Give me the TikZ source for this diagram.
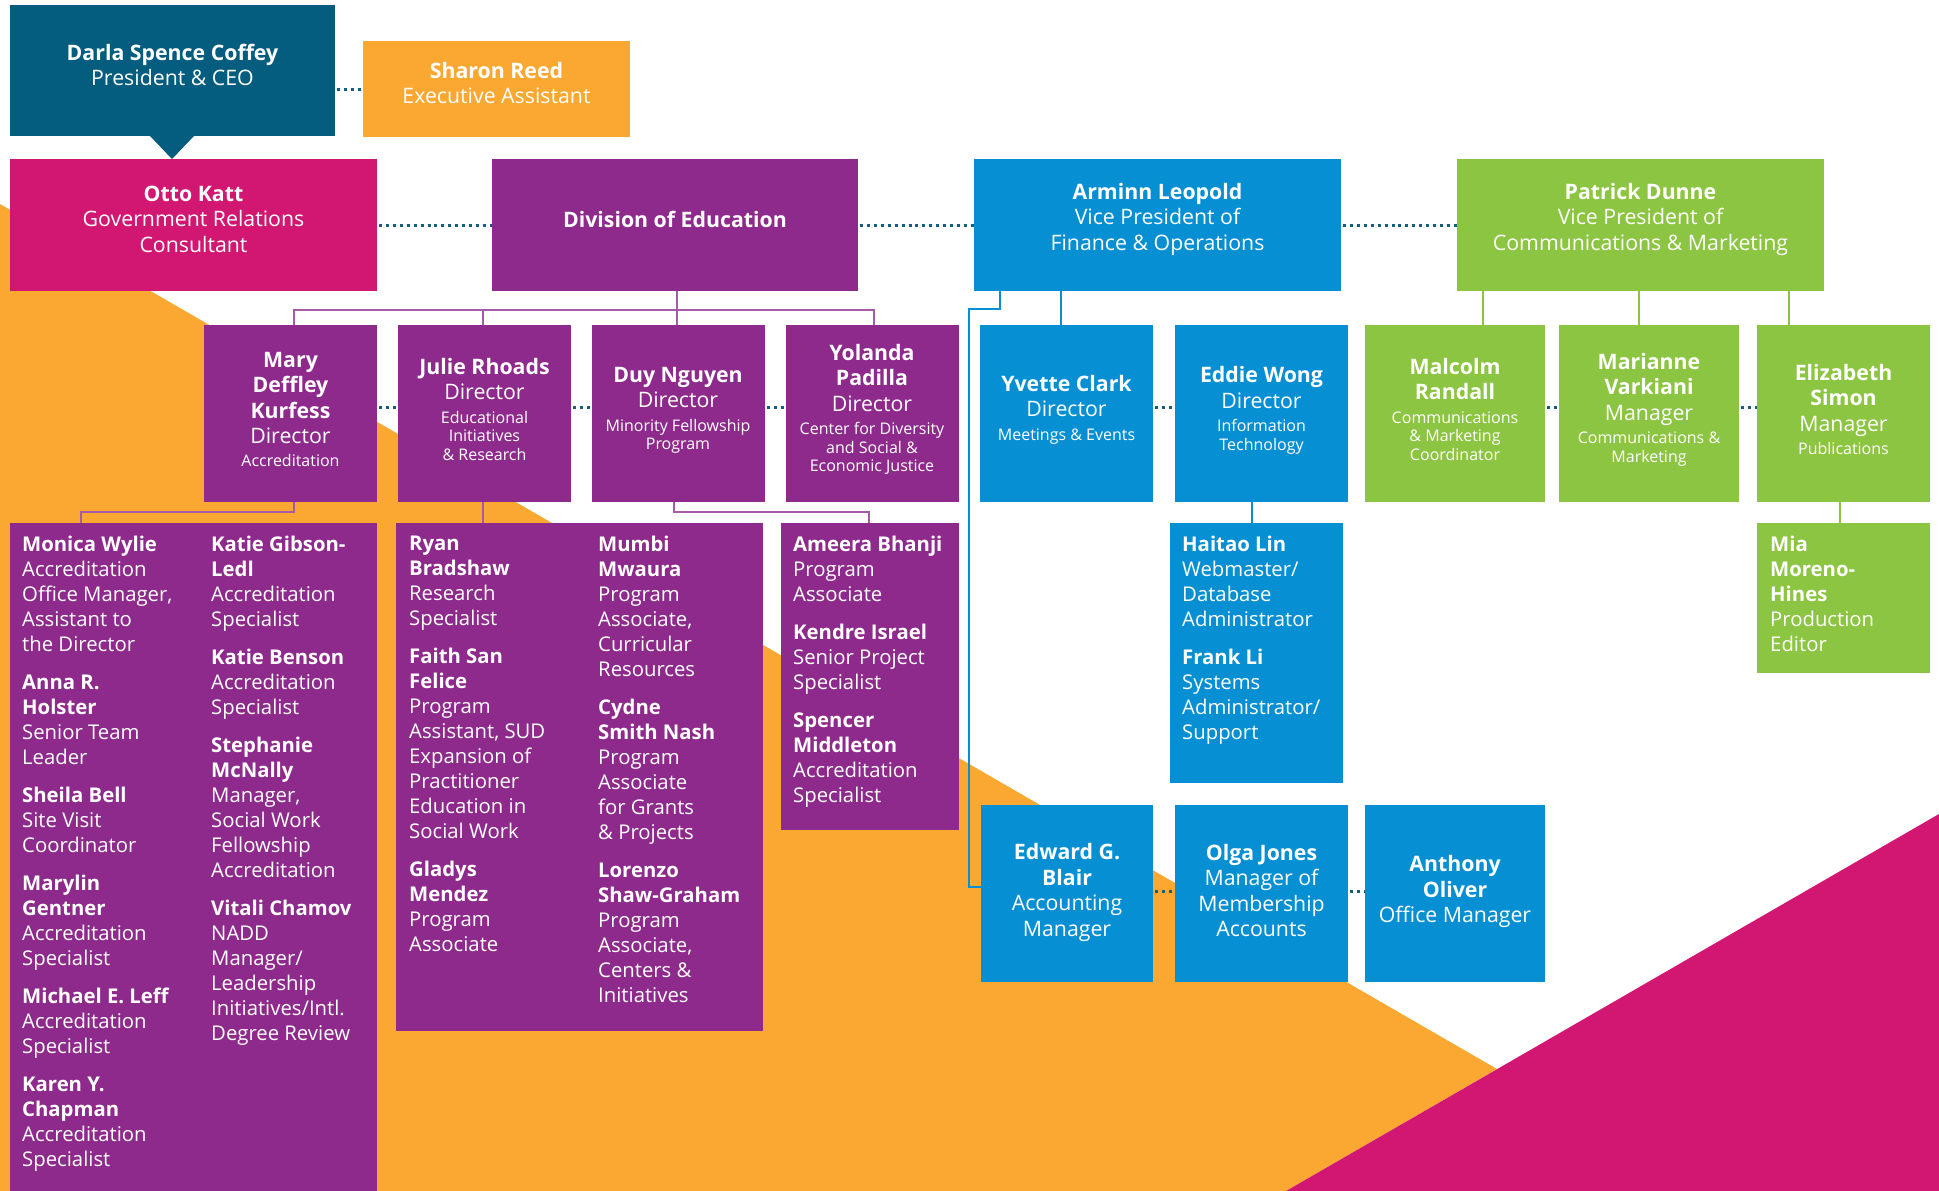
\documentclass[tikz,border=0pt]{standalone}
\usepackage{fontspec}
\setmainfont{Open Sans}
\definecolor{cTeal}{HTML}{045C7E}
\definecolor{cOrange}{HTML}{FBA832}
\definecolor{cMagenta}{HTML}{D21772}
\definecolor{cPurple}{HTML}{8E2A8C}
\definecolor{cBlue}{HTML}{068FD3}
\definecolor{cGreen}{HTML}{8CC541}
\definecolor{cDot}{HTML}{155E7C}
\definecolor{cPLine}{HTML}{A65BAA}
\newcommand\PNm{\fontsize{21.3}{25.5}\selectfont\bfseries}
\newcommand\PRl{\fontsize{21.3}{25.5}\selectfont\mdseries}
\newcommand\PSm{\par\vspace{4.5pt}\fontsize{16}{18.7}\selectfont\mdseries}
\newcommand\PUp[1]{\par\vspace{#1pt}}
\newcommand\PList{\fontsize{20.3}{25}\selectfont}
\newcommand\PEntry[2]{{\bfseries #1}\\#2\par\vspace{13pt}}
\begin{document}
\begin{tikzpicture}[x=1pt,y=-1pt,
  box/.style={fill=#1, text=white, inner sep=0pt, align=flush center, font=\PRl},
  sz/.style 2 args={minimum width=#1, minimum height=#2, text width=#1-8},
  rowtwo/.style={box=#1, sz={173}{177}},
  listtxt/.style={text=white, inner sep=0pt, anchor=north west, align=flush left, text width=200, font=\PList},
  dotc/.style={draw=cDot, line width=3pt, dash pattern=on 3pt off 3.9pt, dash phase=-2pt},
  pcon/.style={draw=cPLine, line width=1.5pt},
  bcon/.style={draw=cBlue, line width=1.5pt},
  gcon/.style={draw=cGreen, line width=1.5pt}]
\useasboundingbox (0,0) rectangle (1939,1191);
% background shapes
\fill[cOrange] (0,204) -- (1497,1069) -- (1286,1191) -- (0,1191) -- cycle;
\fill[cMagenta] (1286,1191) -- (1939,814) -- (1939,1191) -- cycle;

% top row
\node[box=cTeal, sz={325}{131}] (darla) at (172.5,70.5) {\PNm Darla Spence Coffey\par\PRl President \& CEO\PUp{11}};
\fill[cTeal] (149,135) -- (195,135) -- (172,159) -- cycle;
\node[box=cOrange, sz={267}{96}] (sharon) at (496.5,89) {\PNm Sharon Reed\par\PRl Executive Assistant\PUp{12}};
\node[box=cMagenta, sz={367}{132}] (otto) at (193.5,225) {\PNm Otto Katt\par\PRl Government Relations\\Consultant\PUp{12}};
\node[box=cPurple, sz={366}{132}] (div) at (675,225) {\PNm Division of Education\PUp{12}};
\node[box=cBlue, sz={367}{132}] (arm) at (1157.5,225) {\PNm Arminn Leopold\par\PRl Vice President of\\Finance \& Operations\PUp{12}};
\node[box=cGreen, sz={367}{132}] (pat) at (1640.5,225) {\PNm Patrick Dunne\par\PRl Vice President of\\Communications \& Marketing\PUp{12}};

% second row
\node[rowtwo=cPurple] (mary) at (290.5,413.5) {\PNm Mary\\Deffley\\Kurfess\par\PRl Director\PSm Accreditation\PUp{8}};
\node[rowtwo=cPurple] (julie) at (484.5,413.5) {\PNm Julie Rhoads\par\PRl Director\PSm Educational\\Initiatives\\\& Research\PUp{8}};
\node[rowtwo=cPurple] (duy) at (678,413.5) {\PNm Duy Nguyen\par\PRl Director\PSm Minority Fellowship\\Program\PUp{6}};
\node[rowtwo=cPurple] (yol) at (872,413.5) {\PNm Yolanda\\Padilla\par\PRl Director\PSm Center for Diversity\\and Social \&\\Economic Justice\PUp{8}};
\node[rowtwo=cBlue] (yvette) at (1066.5,413.5) {\PNm Yvette Clark\par\PRl Director\PSm Meetings \& Events\PUp{8}};
\node[rowtwo=cBlue] (eddie) at (1261.5,413.5) {\PNm Eddie Wong\par\PRl Director\PSm Information\\Technology\PUp{6}};
\node[rowtwo=cGreen, sz={180}{177}] (malcolm) at (1455,413.5) {\PNm Malcolm\\Randall\PSm Communications\\\& Marketing\\Coordinator\PUp{8}};
\node[rowtwo=cGreen, sz={180}{177}] (marianne) at (1649,413.5) {\PNm Marianne\\Varkiani\par\PRl Manager\PSm Communications \&\\Marketing\PUp{8}};
\node[rowtwo=cGreen] (eliz) at (1843.5,413.5) {\PNm Elizabeth\\Simon\par\PRl Manager\PSm Publications\PUp{8}};

% staff boxes
\node[fill=cPurple, inner sep=0pt, minimum width=367, minimum height=668] (staff1) at (193.5,857) {};
\node[fill=cPurple, inner sep=0pt, minimum width=367, minimum height=508] (staff2) at (579.5,777) {};
\node[fill=cPurple, inner sep=0pt, minimum width=178, minimum height=307] (ameera) at (870,676.5) {};
\node[fill=cBlue, inner sep=0pt, minimum width=173, minimum height=260] (haitao) at (1256.5,653) {};
\node[fill=cGreen, inner sep=0pt, minimum width=173, minimum height=150] (mia) at (1843.5,598) {};

\node[listtxt] (s1a) at (22,536) {%
\PEntry{Monica Wylie}{Accreditation\\Office Manager,\\Assistant to\\the Director}%
\PEntry{Anna R.\\Holster}{Senior Team\\Leader}%
\PEntry{Sheila Bell}{Site Visit\\Coordinator}%
\PEntry{Marylin\\Gentner}{Accreditation\\Specialist}%
\PEntry{Michael E. Leff}{Accreditation\\Specialist}%
{\bfseries Karen Y.\\Chapman}\\Accreditation\\Specialist\par};
\node[listtxt] (s1b) at (211,536) {%
\PEntry{Katie Gibson-\\Ledl}{Accreditation\\Specialist}%
\PEntry{Katie Benson}{Accreditation\\Specialist}%
\PEntry{Stephanie\\McNally}{Manager,\\Social Work\\Fellowship\\Accreditation}%
{\bfseries Vitali Chamov}\\NADD\\Manager/\\Leadership\\Initiatives/Intl.\\Degree Review\par};
\node[listtxt] (s2a) at (409,536) {%
\PEntry{Ryan\\Bradshaw}{Research\\Specialist}%
\PEntry{Faith San\\Felice}{Program\\Assistant, SUD\\Expansion of\\Practitioner\\Education in\\Social Work}%
{\bfseries Gladys\\Mendez}\\Program\\Associate\par};
\node[listtxt] (s2b) at (598,536) {%
\PEntry{Mumbi\\Mwaura}{Program\\Associate,\\Curricular\\Resources}%
\PEntry{Cydne\\Smith Nash}{Program\\Associate\\for Grants\\\& Projects}%
{\bfseries Lorenzo\\Shaw-Graham}\\Program\\Associate,\\Centers \&\\Initiatives\par};
\node[listtxt] (s3) at (793,536) {%
\PEntry{Ameera Bhanji}{Program\\Associate}%
\PEntry{Kendre Israel}{Senior Project\\Specialist}%
{\bfseries Spencer\\Middleton}\\Accreditation\\Specialist\par};
\node[listtxt] (s4) at (1182,536) {%
\PEntry{Haitao Lin}{Webmaster/\\Database\\Administrator}%
{\bfseries Frank Li}\\Systems\\Administrator/\\Support\par};
\node[listtxt] (s5) at (1770,536) {%
{\bfseries Mia\\Moreno-\\Hines}\\Production\\Editor\par};

% fourth row
\node[rowtwo=cBlue, sz={172}{177}] (edward) at (1067,893.5) {\PNm Edward G.\\Blair\par\PRl Accounting\\Manager\PUp{2}};
\node[rowtwo=cBlue] (olga) at (1261.5,893.5) {\PNm Olga Jones\par\PRl Manager of\\Membership\\Accounts\PUp{6}};
\node[rowtwo=cBlue, sz={180}{177}] (anthony) at (1455,893.5) {\PNm Anthony\\Oliver\par\PRl Office Manager\PUp{4}};

% dotted connectors
\draw[dotc] (sharon.west -| darla.east) -- (sharon.west);
\draw[dotc] (otto.east) -- (div.west);
\draw[dotc] (div.east) -- (arm.west);
\draw[dotc] (arm.east) -- (pat.west);
\draw[dotc] ([yshift=6.5pt]mary.east) -- ([yshift=6.5pt]julie.west);
\draw[dotc] ([yshift=6.5pt]julie.east) -- ([yshift=6.5pt]duy.west);
\draw[dotc] ([yshift=6.5pt]duy.east) -- ([yshift=6.5pt]yol.west);
\draw[dotc] ([yshift=6.5pt]yvette.east) -- ([yshift=6.5pt]eddie.west);
\draw[dotc] ([yshift=6.5pt]malcolm.east) -- ([yshift=6.5pt]marianne.west);
\draw[dotc] ([yshift=6.5pt]marianne.east) -- ([yshift=6.5pt]eliz.west);
\draw[dotc] ([yshift=2.5pt]edward.east) -- ([yshift=2.5pt]olga.west);
\draw[dotc] ([yshift=2.5pt]olga.east) -- ([yshift=2.5pt]anthony.west);

% purple connectors
\coordinate (bus) at (0,310);
\draw[pcon] ([xshift=3.5pt]mary.north) -- ([xshift=3.5pt]mary.north |- bus) -- ([xshift=2pt]yol.north |- bus) -- ([xshift=2pt]yol.north);
\draw[pcon] ([xshift=-1.5pt]julie.north) -- ([xshift=-1.5pt]julie.north |- bus);
\draw[pcon] ([xshift=2pt]div.south) -- ([xshift=-1pt]duy.north);
\draw[pcon] ([xshift=3.5pt]mary.south) -- ++(0,10) -| ([xshift=-112.5pt]staff1.north);
\draw[pcon] ([xshift=-1.5pt]julie.south) -- ([xshift=-1.5pt]julie.south |- staff2.north);
\draw[pcon] ([xshift=-4pt]duy.south) -- ++(0,10) -| ([xshift=-1pt]ameera.north);

% blue connectors
\draw[bcon] ([xshift=-96.5pt]arm.south) -- ([xshift=-96.5pt]arm.south |- yvette.north);
\draw[bcon] ([xshift=-157.5pt]arm.south) -- ++(0,18) -- ++(-31,0) |- ([yshift=6.5pt]edward.west);
\draw[bcon] ([xshift=-9.5pt]eddie.south) -- ([xshift=-9.5pt]eddie.south |- haitao.north);

% green connectors
\draw[gcon] ([xshift=-157.5pt]pat.south) -- ([xshift=-157.5pt]pat.south |- malcolm.north);
\draw[gcon] ([xshift=-1.5pt]pat.south) -- ([xshift=-1.5pt]pat.south |- marianne.north);
\draw[gcon] ([xshift=148.5pt]pat.south) -- ([xshift=148.5pt]pat.south |- eliz.north);
\draw[gcon] ([xshift=-3.5pt]eliz.south) -- ([xshift=-3.5pt]eliz.south |- mia.north);
\end{tikzpicture}
\end{document}
